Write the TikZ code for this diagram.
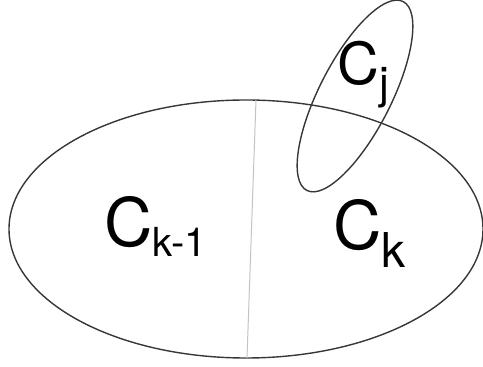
\documentclass[tikz,border=0pt]{standalone}
\usepackage{fontspec}
\setmainfont{TeX Gyre Heros}
\usetikzlibrary{positioning}
\definecolor{setGrey}{RGB}{55,55,55}
\definecolor{cutGrey}{RGB}{195,195,195}

\begin{document}
\begin{tikzpicture}[x=1pt,y=1pt,
    setline/.style={draw=setGrey,line width=1.4pt},
    cutline/.style={draw=cutGrey,line width=1pt},
    lbl/.style={inner sep=0pt,anchor=base west,text=black}
  ]
  \useasboundingbox (0,0) rectangle (483,367);
  % Sets
  \draw[setline] (246,138) ellipse [x radius=237,y radius=129];
  \draw[setline,rotate around={63:(355,271)}] (355,271) ellipse [x radius=106,y radius=36];
  % Split of the big set
  \coordinate (cuttop) at (256,267);
  \coordinate (cutbot) at (247,9);
  \draw[cutline] (cuttop) -- (cutbot);
  % Labels
  \node[lbl] (ckprev) at (104,120) {\fontsize{67}{70}\selectfont C\raisebox{-10pt}{\fontsize{40}{42}\selectfont k-1}};
  \node[lbl] (ck) at (333,117) {\fontsize{67}{70}\selectfont C\raisebox{-18pt}{\fontsize{48}{50}\selectfont k}};
  \node[lbl] (cj) at (337,282) {\fontsize{58}{60}\selectfont C\raisebox{-14pt}{\fontsize{44}{46}\selectfont j}};
\end{tikzpicture}
\end{document}
